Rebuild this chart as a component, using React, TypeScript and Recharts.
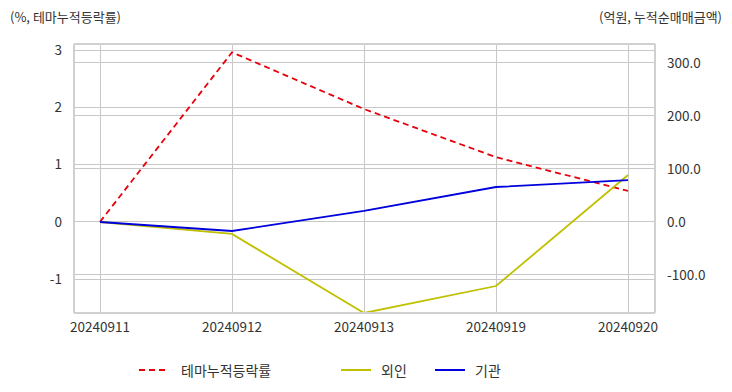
import React from 'react';
import { ComposedChart, Line, XAxis, YAxis, CartesianGrid, Legend, ReferenceLine } from 'recharts';

const dates = ['20240911', '20240912', '20240913', '20240919', '20240920'];
const themeRate = [0, 2.96, 1.97, 1.13, 0.54];
const foreign = [0, -22.6, -171.7, -120.8, 88.7];
const institution = [0, -17, 20.8, 66, 79];
const leftTicks = [-1, 0, 1, 2, 3];
const rightTicks = [-100, 0, 100, 200, 300];
const leftDomain = [-1.59, 3.105];
const rightDomain = [-171.7, 335.8];

const data = dates.map((d, i) => ({ date: d, theme: themeRate[i], foreign: foreign[i], inst: institution[i] }));

const FONT = '"Noto Sans CJK KR", "Noto Sans", sans-serif';

const legendItems = [
  { label: '테마누적등락률', color: '#e8000b', dash: '6 4' },
  { label: '외인', color: '#c0c000', dash: undefined },
  { label: '기관', color: '#0000dd', dash: undefined },
];

const LegendContent = () => (
  <div style={{ position: 'relative', height: 44, fontFamily: FONT, fontSize: 14, color: '#333' }}>
    {legendItems.map((it, i) => {
      const lefts = [139, 341, 435];
      return (
        <div key={it.label} style={{ position: 'absolute', left: lefts[i], top: 12, display: 'flex', alignItems: 'center' }}>
          <svg width={30} height={10}>
            <line x1={0} y1={5} x2={30} y2={5} stroke={it.color} strokeWidth={2} strokeDasharray={it.dash} />
          </svg>
          <span style={{ marginLeft: i === 0 ? 12 : 10 }}>{it.label}</span>
        </div>
      );
    })}
  </div>
);

const AX = { stroke: '#d0d0d0', strokeWidth: 2 };

export default function App() {
  return (
    <div style={{ position: 'absolute', left: 0, top: 0, width: 732, height: 392, background: '#fff', fontFamily: FONT }}>
      <div style={{ position: 'absolute', left: 10, top: 7, fontSize: 13, color: '#333' }}>(%, 테마누적등락률)</div>
      <div style={{ position: 'absolute', right: 10, top: 7, fontSize: 13, color: '#333' }}>(억원, 누적순매매금액)</div>
      <ComposedChart width={732} height={392} data={data} margin={{ top: 44, right: 0, bottom: 0, left: 0 }}>
        <CartesianGrid yAxisId="left" stroke="#c8c8c8" strokeWidth={1} shapeRendering="crispEdges" />
        <CartesianGrid yAxisId="right" stroke="#c8c8c8" strokeWidth={1} vertical={false} shapeRendering="crispEdges" />
        <XAxis
          dataKey="date"
          height={35}
          padding={{ left: 26, right: 27 }}
          tickLine={false}
          axisLine={AX}
          tick={{ fill: '#333', fontSize: 13.5, fontFamily: FONT }}
          tickMargin={3}
          interval={0}
        />
        <YAxis
          yAxisId="left"
          orientation="left"
          width={74}
          domain={leftDomain}
          ticks={leftTicks}
          allowDataOverflow
          tickLine={false}
          axisLine={AX}
          tick={{ fill: '#333', fontSize: 13.5, fontFamily: FONT }}
          tickMargin={6}
        />
        <YAxis
          yAxisId="right"
          orientation="right"
          width={77}
          domain={rightDomain}
          ticks={rightTicks}
          allowDataOverflow
          tickLine={false}
          axisLine={AX}
          tick={{ fill: '#333', fontSize: 13.5, fontFamily: FONT }}
          tickFormatter={(v: number) => v.toFixed(1)}
          tickMargin={6}
        />
        <ReferenceLine yAxisId="left" y={leftDomain[1]} stroke="#d0d0d0" strokeWidth={2} ifOverflow="extendDomain" />
        <Line yAxisId="left" dataKey="theme" stroke="#e8000b" strokeWidth={1.8} strokeDasharray="6 4" dot={false} isAnimationActive={false} />
        <Line yAxisId="right" dataKey="foreign" stroke="#c0c000" strokeWidth={1.8} dot={false} isAnimationActive={false} />
        <Line yAxisId="right" dataKey="inst" stroke="#0000dd" strokeWidth={1.8} dot={false} isAnimationActive={false} />
        <Legend verticalAlign="bottom" height={44} content={<LegendContent />} wrapperStyle={{ left: 0, width: 732 }} />
      </ComposedChart>
    </div>
  );
}
